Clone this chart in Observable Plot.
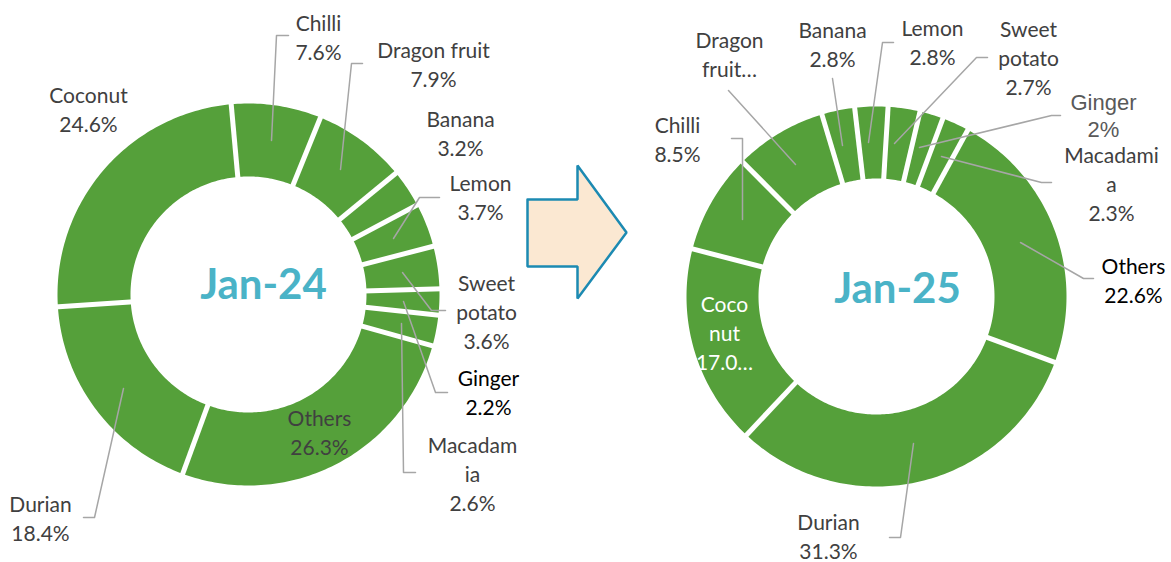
<!DOCTYPE html>
<html>
<head>
<meta charset="utf-8">
<script src="https://cdn.jsdelivr.net/npm/d3@7"></script>
<script src="https://cdn.jsdelivr.net/npm/@observablehq/plot@0.6"></script>
<style>
  html, body { margin: 0; padding: 0; background: #fff; }
  #chart svg { display: block; }
</style>
</head>
<body>
<div id="chart"></div>
<script>
// ---------------- data ----------------
const fruits = ["Chilli", "Dragon fruit", "Banana", "Lemon", "Sweet potato", "Ginger", "Macadamia", "Others", "Durian", "Coconut"];
const shares24 = [7.6, 7.9, 3.2, 3.7, 3.6, 2.2, 2.6, 26.3, 18.4, 24.6];
const shares25 = [8.5, 7.8, 2.8, 2.8, 2.7, 2.0, 2.3, 22.6, 31.3, 17.0];
const labelText24 = ["Chilli\n7.6%", "Dragon fruit\n7.9%", "Banana\n3.2%", "Lemon\n3.7%", "Sweet\npotato\n3.6%", "Ginger\n2.2%", "Macadam\nia\n2.6%", "Others\n26.3%", "Durian\n18.4%", "Coconut\n24.6%"];
const labelText25 = ["Chilli\n8.5%", "Dragon\nfruit…", "Banana\n2.8%", "Lemon\n2.8%", "Sweet\npotato\n2.7%", "Ginger\n2%", "Macadami\na\n2.3%", "Others\n22.6%", "Durian\n31.3%", "Coco\nnut\n17.0…"];
const titles = ["Jan-24", "Jan-25"];

// ---------------- layout ----------------
const W = 1171, H = 562;
const GREEN = "#55A03A", TEAL = "#4AB3C7", GREY = "#404040", LEADER = "#A6A6A6";
const donut24 = {cx: 248, cy: 294, R: 191, r: 118, rot: -5.2};
const donut25 = {cx: 876, cy: 296, R: 190, r: 118, rot: -75.5};
const labelPos24 = [[318, 35.5], [433, 63], [460, 131.5], [480, 195.5], [486, 310], [488, 390.5], [472, 472], [319, 430.5], [40, 516.5], [88, 108]];
const labelPos25 = [[677, 138], [729, 53], [832, 43], [932, 40.5], [1028, 56], [1103, 114], [1111, 182], [1133, 278.5], [828, 535], [724, 331]];
const labelColor24 = [GREY, GREY, GREY, GREY, GREY, "#000", GREY, GREY, GREY, GREY];
const labelColor25 = [GREY, GREY, GREY, GREY, GREY, "#595959", GREY, "#000", GREY, "#fff"];
const leaders24 = {
  "Chilli": [[288, 35], [276, 35], [271, 140]],
  "Dragon fruit": [[362, 63], [351, 63], [340, 169]],
  "Lemon": [[439, 197], [419, 197], [393, 238]],
  "Sweet potato": [[402, 272], [431, 310], [445, 310]],
  "Ginger": [[403, 301], [435, 392], [447, 392]],
  "Macadamia": [[401, 323], [403, 472], [415, 472]],
  "Durian": [[123, 388], [94, 517], [83, 517]]
};
const leaders25 = {
  "Chilli": [[731, 138], [742, 138], [742, 219]],
  "Dragon fruit": [[728, 90], [795, 164]],
  "Banana": [[832, 78], [842, 145]],
  "Lemon": [[893, 42], [882, 42], [868, 142]],
  "Sweet potato": [[987, 57], [976, 57], [894, 143]],
  "Ginger": [[1060, 115], [1051, 115], [919, 147]],
  "Macadamia": [[1051, 182], [1041, 182], [941, 156]],
  "Others": [[1020, 242], [1083, 278], [1093, 278]],
  "Durian": [[913, 443], [900, 537], [889, 537]]
};
const arrowShape = [[527, 199], [577, 199], [577, 165], [626, 232], [577, 298], [577, 266], [527, 266], [527, 199]];

// ---------------- geometry from data ----------------
function ring(tag, vals, d) {
  const total = d3.sum(vals);
  const pts = [], gaps = [];
  let cum = 0;
  vals.forEach((v, i) => {
    const a0 = (d.rot * Math.PI / 180) + cum / total * 2 * Math.PI;
    cum += v;
    const a1 = (d.rot * Math.PI / 180) + cum / total * 2 * Math.PI;
    const n = Math.max(2, Math.ceil((a1 - a0) / (Math.PI / 180)));
    const key = tag + i;
    const outer = d3.range(n + 1).map(k => a0 + (a1 - a0) * k / n);
    outer.forEach(a => pts.push({key, x: d.cx + d.R * Math.sin(a), y: d.cy - d.R * Math.cos(a)}));
    outer.slice().reverse().forEach(a => pts.push({key, x: d.cx + d.r * Math.sin(a), y: d.cy - d.r * Math.cos(a)}));
    pts.push({key, x: d.cx + d.R * Math.sin(a0), y: d.cy - d.R * Math.cos(a0)});
    gaps.push({
      x1: d.cx + (d.r - 3) * Math.sin(a0), y1: d.cy - (d.r - 3) * Math.cos(a0),
      x2: d.cx + (d.R + 3) * Math.sin(a0), y2: d.cy - (d.R + 3) * Math.cos(a0)
    });
  });
  return {pts, gaps};
}
const g24 = ring("a", shares24, donut24);
const g25 = ring("b", shares25, donut25);

const labels = [];
fruits.forEach((f, i) => {
  labels.push({text: labelText24[i], x: labelPos24[i][0], y: labelPos24[i][1], fill: labelColor24[i], font: "Lato"});
  labels.push({text: labelText25[i], x: labelPos25[i][0], y: labelPos25[i][1], fill: labelColor25[i], font: f === "Ginger" ? "Arial" : "Lato"});
});
const leaderPts = [];
Object.entries(leaders24).forEach(([k, ps]) => ps.forEach(p => leaderPts.push({key: "a" + k, x: p[0], y: p[1]})));
Object.entries(leaders25).forEach(([k, ps]) => ps.forEach(p => leaderPts.push({key: "b" + k, x: p[0], y: p[1]})));
const arrowPts = arrowShape.map(p => ({x: p[0], y: p[1]}));
const centerLabels = [
  {text: titles[0], x: 263, y: 285},
  {text: titles[1], x: 897, y: 289}
];

const chart = Plot.plot({
  width: W, height: H,
  margin: 0,
  x: {domain: [0, W], range: [0, W], axis: null},
  y: {domain: [0, H], range: [0, H], axis: null},
  style: {background: "#fff", fontFamily: "Lato"},
  marks: [
    Plot.line(g24.pts.concat(g25.pts), {x: "x", y: "y", z: "key", fill: GREEN, stroke: "none", curve: "linear"}),
    Plot.link(g24.gaps.concat(g25.gaps), {x1: "x1", y1: "y1", x2: "x2", y2: "y2", stroke: "#fff", strokeWidth: 5}),
    Plot.line(leaderPts, {x: "x", y: "y", z: "key", stroke: LEADER, strokeWidth: 1.5, curve: "linear"}),
    Plot.line(arrowPts, {x: "x", y: "y", fill: "#FBE8D2", stroke: "#1C8AB2", strokeWidth: 2.5, strokeLinejoin: "miter", curve: "linear"}),
    Plot.text(labels.filter(d => d.font === "Lato"), {x: "x", y: "y", text: "text", fill: "fill", fontSize: 21, fontFamily: "Lato", lineHeight: 1.38, textAnchor: "middle", lineAnchor: "middle"}),
    Plot.text(labels.filter(d => d.font === "Arial"), {x: "x", y: "y", text: "text", fill: "fill", fontSize: 22, fontFamily: "Liberation Sans, Arial", lineHeight: 1.22, textAnchor: "middle", lineAnchor: "middle"}),
    Plot.text(centerLabels, {x: "x", y: "y", text: "text", fill: TEAL, fontSize: 42, fontWeight: "bold", fontFamily: "Lato", textAnchor: "middle", lineAnchor: "middle"})
  ]
});
document.getElementById("chart").appendChild(chart);
</script>
</body>
</html>
